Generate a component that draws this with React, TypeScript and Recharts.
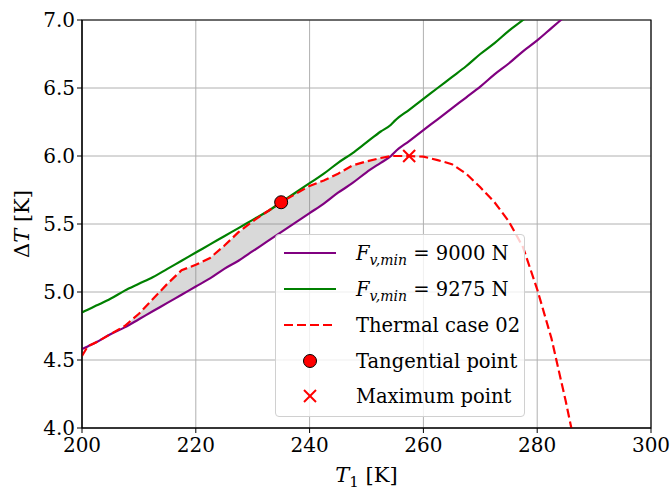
// Delta T vs T1 with two F_v,min curves and thermal case 02
import {
  ComposedChart,
  Line,
  Area,
  Scatter,
  XAxis,
  YAxis,
  CartesianGrid,
  ReferenceArea,
  Label,
} from "recharts";

const FONT = "'DejaVu Serif', serif";

// T1 [K] sample points shared by all curves
const t1 = [
  200, 201, 202.5, 205, 207.5, 210, 212.5, 215, 217.5, 220, 222.5, 225, 227.5,
  230, 232.5, 235, 237.5, 240, 242.5, 245, 247.5, 250, 252.5, 254.3, 255, 257.5,
  260, 262.5, 265, 267.5, 270, 272.5, 275, 277.5, 280, 282.5, 285, 287.5,
];
// F_v,min = 9000 N
const fv9000 = [
  4.58, 4.6, 4.63, 4.69, 4.74, 4.8, 4.86, 4.92, 4.98, 5.04, 5.1, 5.17, 5.23,
  5.3, 5.37, 5.44, 5.51, 5.58, 5.65, 5.73, 5.8, 5.88, 5.95, 6.0, 6.03, 6.11,
  6.19, 6.27, 6.35, 6.43, 6.51, 6.6, 6.68, 6.77, 6.85, 6.94, 7.03, 7.12,
];
// F_v,min = 9275 N
const fv9275 = [
  4.85, 4.87, 4.9, 4.95, 5.01, 5.06, 5.11, 5.17, 5.23, 5.29, 5.35, 5.41, 5.47,
  5.53, 5.59, 5.66, 5.73, 5.8, 5.87, 5.95, 6.02, 6.1, 6.18, 6.23, 6.26, 6.34,
  6.42, 6.5, 6.58, 6.66, 6.75, 6.83, 6.92, 7.0, 7.09, 7.18, 7.27, 7.36,
];
// Thermal case 02
const thermal02 = [
  4.53, 4.6, 4.63, 4.69, 4.75, 4.84, 4.95, 5.06, 5.16, 5.2, 5.25, 5.34, 5.44,
  5.52, 5.59, 5.66, 5.72, 5.78, 5.82, 5.87, 5.93, 5.96, 5.985, 6.0, 6.0, 6.0,
  5.995, 5.97, 5.94, 5.87, 5.77, 5.66, 5.52, 5.33, 5.02, 4.66, 4.2, 3.7,
];
const bandStart = 207.5;
const bandEnd = 254.3;

const tangentPoint = [{ T: 235, dT: 5.66 }];
const maximumPoint = [{ T: 257.5, dT: 6.0 }];

const xTicks = [200, 220, 240, 260, 280, 300];
const yTicks = [4.0, 4.5, 5.0, 5.5, 6.0, 6.5, 7.0];

const rows = t1.map((T, i) => ({
  T,
  fv9000: fv9000[i],
  fv9275: fv9275[i],
  thermal: thermal02[i],
  band: T >= bandStart && T <= bandEnd ? [fv9000[i], thermal02[i]] : null,
}));

const tickStyle = { fontFamily: FONT, fontSize: 20, fill: "#000" };

function XLabel(props: any) {
  const vb = props.viewBox;
  return (
    <text x={vb.x + vb.width / 2} y={482} textAnchor="middle" fontFamily={FONT} fontSize={21}>
      <tspan fontStyle="italic">T</tspan>
      <tspan dy={5} fontSize={15}>1</tspan>
      <tspan dy={-5}> [K]</tspan>
    </text>
  );
}

function YLabel(props: any) {
  const vb = props.viewBox;
  const cy = vb.y + vb.height / 2;
  return (
    <text x={29} y={cy} transform={`rotate(-90, 29, ${cy})`} textAnchor="middle" fontFamily={FONT} fontSize={21}>
      <tspan>Δ</tspan>
      <tspan fontStyle="italic">T</tspan>
      <tspan> [K]</tspan>
    </text>
  );
}

const Dot = (p: any) => (
  <circle cx={p.cx} cy={p.cy} r={6.5} fill="#ff0000" stroke="#000" strokeWidth={1} />
);
const Cross = (p: any) => (
  <g stroke="#ff0000" strokeWidth={2}>
    <line x1={p.cx - 6} y1={p.cy - 6} x2={p.cx + 6} y2={p.cy + 6} />
    <line x1={p.cx - 6} y1={p.cy + 6} x2={p.cx + 6} y2={p.cy - 6} />
  </g>
);

function FvText({ y, value }: { y: number; value: string }) {
  return (
    <text x={80} y={y} fontFamily={FONT} fontSize={19.5}>
      <tspan fontStyle="italic">F</tspan>
      <tspan dy={5} fontSize={14} fontStyle="italic">v,min</tspan>
      <tspan dy={-5}>{` = ${value} N`}</tspan>
    </text>
  );
}

// legend box drawn over the plot like matplotlib's framed legend
function LegendBox() {
  const rowsY = [18, 54, 90, 126, 161];
  return (
    <div
      style={{
        position: "absolute",
        left: 275,
        top: 234,
        width: 250,
        height: 183,
        boxSizing: "border-box",
        border: "1px solid #d0d0d0",
        borderRadius: 4,
        background: "rgba(255,255,255,0.8)",
      }}
    >
      <svg width={248} height={181} style={{ display: "block" }}>
        <line x1={8} x2={60} y1={rowsY[0]} y2={rowsY[0]} stroke="#800080" strokeWidth={2.2} />
        <FvText y={rowsY[0] + 7} value="9000" />
        <line x1={8} x2={60} y1={rowsY[1]} y2={rowsY[1]} stroke="#008000" strokeWidth={2.2} />
        <FvText y={rowsY[1] + 7} value="9275" />
        <line x1={8} x2={60} y1={rowsY[2]} y2={rowsY[2]} stroke="#ff0000" strokeWidth={2.2} strokeDasharray="9 4" />
        <text x={80} y={rowsY[2] + 7} fontFamily={FONT} fontSize={19.5}>Thermal case 02</text>
        <Dot cx={34} cy={rowsY[3]} />
        <text x={80} y={rowsY[3] + 7} fontFamily={FONT} fontSize={19.5}>Tangential point</text>
        <Cross cx={34} cy={rowsY[4]} />
        <text x={80} y={rowsY[4] + 7} fontFamily={FONT} fontSize={19.5}>Maximum point</text>
      </svg>
    </div>
  );
}

export default function App() {
  return (
    <div style={{ position: "absolute", left: 0, top: 0, width: 670, height: 493, background: "#fff" }}>
      <ComposedChart width={670} height={493} data={rows} margin={{ top: 20, right: 19, bottom: 0, left: 0 }}>
        <CartesianGrid stroke="#b0b0b0" strokeWidth={1} />
        <XAxis
          dataKey="T"
          type="number"
          domain={[200, 300]}
          ticks={xTicks}
          allowDataOverflow
          height={65}
          tick={tickStyle}
          tickSize={5}
          tickMargin={5}
          stroke="#000"
        >
          <Label content={XLabel} />
        </XAxis>
        <YAxis
          type="number"
          domain={[4, 7]}
          ticks={yTicks}
          allowDataOverflow
          width={82}
          tick={tickStyle}
          tickSize={5}
          tickMargin={2}
          tickFormatter={(v: number) => v.toFixed(1)}
          stroke="#000"
        >
          <Label content={YLabel} />
        </YAxis>
        <Area dataKey="band" fill="#808080" fillOpacity={0.3} stroke="none" isAnimationActive={false} />
        <Line type="monotone" dataKey="fv9000" stroke="#800080" strokeWidth={2.2} dot={false} activeDot={false} isAnimationActive={false} />
        <Line type="monotone" dataKey="fv9275" stroke="#008000" strokeWidth={2.2} dot={false} activeDot={false} isAnimationActive={false} />
        <Line
          dataKey="thermal"
          stroke="#ff0000"
          strokeWidth={2.2}
          strokeDasharray="9 4"
          dot={false}
          activeDot={false}
          isAnimationActive={false}
        />
        <Scatter data={tangentPoint} dataKey="dT" shape={Dot} isAnimationActive={false} />
        <Scatter data={maximumPoint} dataKey="dT" shape={Cross} isAnimationActive={false} />
        <ReferenceArea x1={200} x2={300} y1={4} y2={7} fill="none" stroke="#000" strokeWidth={1.2} />
      </ComposedChart>
      <LegendBox />
    </div>
  );
}
